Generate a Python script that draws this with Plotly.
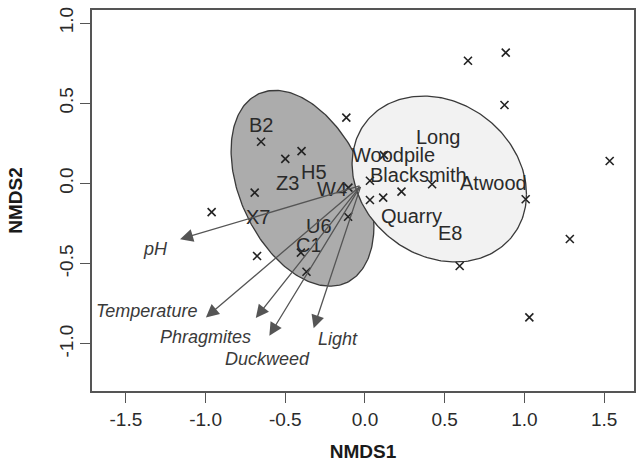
import numpy as np
import plotly.graph_objects as go

# ---- data ----
species_x = [-0.652, -0.50, -0.398, -0.692, -0.962, -0.677, -0.402, -0.367, -0.106, -0.117,
             -0.104, 0.031, 0.031, 0.114, 0.119, 0.421, 0.229, 1.008, 0.646, 0.883,
             0.875, 1.535, 1.285, 0.594, 1.031]
species_y = [0.260, 0.153, 0.202, -0.057, -0.178, -0.452, -0.431, -0.550, -0.207, 0.410,
             -0.026, 0.017, -0.103, -0.088, 0.177, -0.005, -0.051, -0.098, 0.765, 0.815,
             0.489, 0.140, -0.346, -0.514, -0.834]

site_labels = ["B2", "Z3", "H5", "W4", "X7", "U6", "C1",
               "Long", "Woodpile", "Blacksmith", "Atwood", "Quarry", "E8"]
site_x = [-0.652, -0.486, -0.319, -0.204, -0.673, -0.288, -0.354,
          0.463, 0.181, 0.335, 0.805, 0.290, 0.536]
site_y = [0.364, 0.001, 0.074, -0.036, -0.207, -0.265, -0.383,
          0.292, 0.180, 0.050, 0.001, -0.205, -0.307]

env_vars = ["pH", "Temperature", "Phragmites", "Duckweed", "Light"]
env_x = [-1.160, -0.998, -0.685, -0.600, -0.322]
env_y = [-0.347, -0.835, -0.838, -0.948, -0.902]
env_label_x = [-1.312, -1.372, -1.000, -0.610, -0.167]
env_label_y = [-0.410, -0.793, -0.955, -1.095, -0.971]
env_origin = [-0.025, -0.012]

group_names = ["grey group", "light group"]
group_cx = [-0.392, 0.466]
group_cy = [-0.030, 0.028]
group_sx = [0.448, 0.547]
group_sy = [0.610, 0.517]
group_cov = [-0.1050, -0.0517]
group_fill = ["#acacac", "#f2f2f2"]

x_ticks = [-1.5, -1.0, -0.5, 0.0, 0.5, 1.0, 1.5]
y_ticks = [-1.0, -0.5, 0.0, 0.5, 1.0]

FONT = "Liberation Sans, Arial, sans-serif"

fig = go.Figure()

t = np.linspace(0, 2 * np.pi, 240)
for name, cx, cy, sx, sy, cv, col in zip(group_names, group_cx, group_cy, group_sx,
                                          group_sy, group_cov, group_fill):
    L = np.linalg.cholesky(np.array([[sx ** 2, cv], [cv, sy ** 2]]))
    pts = L @ np.vstack([np.cos(t), np.sin(t)])
    fig.add_trace(go.Scatter(x=cx + pts[0], y=cy + pts[1], mode="lines", fill="toself",
                             fillcolor=col, line=dict(color="#3a3a3a", width=1.3),
                             hoverinfo="skip", showlegend=False, name=name))

fig.add_trace(go.Scatter(x=species_x, y=species_y, mode="markers",
                         marker=dict(symbol="x-thin", size=8,
                                     line=dict(color="#222222", width=1.6)),
                         showlegend=False))

for lab, x, y in zip(site_labels, site_x, site_y):
    fig.add_annotation(x=x, y=y, text=lab, showarrow=False,
                       font=dict(family=FONT, size=20, color="#2a2a2a"))

for v, x, y, lx, ly in zip(env_vars, env_x, env_y, env_label_x, env_label_y):
    fig.add_annotation(x=x, y=y, ax=env_origin[0], ay=env_origin[1],
                       xref="x", yref="y", axref="x", ayref="y", text="",
                       showarrow=True, arrowhead=2, arrowsize=2.0, arrowwidth=1.3,
                       arrowcolor="#555555")
    fig.add_annotation(x=lx, y=ly, text=f"<i>{v}</i>", showarrow=False,
                       font=dict(family=FONT, size=18, color="#3a3a3a"))

axis_common = dict(showline=True, mirror=True, linecolor="#555555", linewidth=1.5,
                   ticks="outside", ticklen=10, tickwidth=1.3, tickcolor="#555555",
                   showgrid=False, zeroline=False,
                   tickfont=dict(family=FONT, size=19, color="#2a2a2a"))

fig.update_layout(
    width=637, height=463,
    margin=dict(l=92, r=1, t=10, b=72),
    plot_bgcolor="white", paper_bgcolor="white",
    xaxis=dict(range=[-1.7125, 1.6875], tickvals=x_ticks,
               ticktext=[f"{v:.1f}" for v in x_ticks],
               title=dict(text="<b>NMDS1</b>", standoff=16,
                          font=dict(family=FONT, size=19, color="#1a1a1a")),
               **axis_common),
    yaxis=dict(range=[-1.293, 1.081], tickvals=y_ticks,
               ticktext=[f"{v:.1f}" for v in y_ticks], tickangle=-90,
               title=dict(text="<b>NMDS2</b>", standoff=28,
                          font=dict(family=FONT, size=19, color="#1a1a1a")),
               **axis_common),
)

fig.write_html("out.html")
